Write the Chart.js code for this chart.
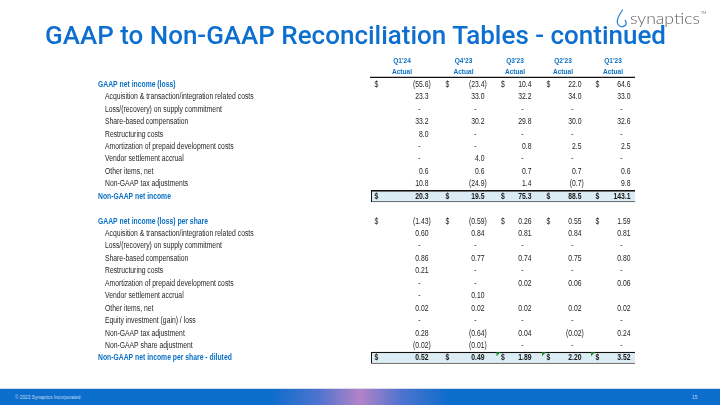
<!DOCTYPE html>
<html><head><meta charset="utf-8">
<script src="https://cdn.jsdelivr.net/npm/chart.js@4.4.0/dist/chart.umd.min.js"></script>
<style>
html,body{margin:0;padding:0;background:#fff;}
#wrap{position:relative;width:720px;height:405px;overflow:hidden;background:#fff;}
#c{position:absolute;left:0;top:0;}
.abs{position:absolute;left:0;top:0;}
#footer{position:absolute;left:0;top:388px;width:720px;height:17px;
  background:linear-gradient(90deg, rgba(11,109,204,0) 270px, rgba(120,120,208,0.6) 318px, #b383c9 360px, rgba(120,120,208,0.6) 402px, rgba(11,109,204,0) 450px), #0b6dcc;
  border-top:1px solid #d6dde6;box-sizing:border-box;}
#footer span{position:absolute;top:4.5px;font:5.6px "Liberation Sans",sans-serif;color:#c9dcf2;white-space:nowrap;transform:scaleX(0.85);transform-origin:0 50%;}
</style></head>
<body><div id="wrap">
<canvas id="c" width="720" height="405"></canvas>
<svg class="abs" width="720" height="60">
  <text x="45" y="44" textLength="621" lengthAdjust="spacingAndGlyphs" font-family="Roboto" font-weight="500" font-size="26.5" fill="#0d6fcf">GAAP to Non-GAAP Reconciliation Tables - continued</text>
  <path d="M622.5,10 C619,15 616.8,19 617.3,22.5 C617.8,26 621.8,27.8 624.6,25.9 C626.4,24.6 626.6,22.1 625.2,20.5" fill="none" stroke="#2b84d8" stroke-width="1.3" stroke-linecap="round"/>
  <text x="630" y="24" textLength="70" lengthAdjust="spacingAndGlyphs" font-family="Lato" font-weight="300" font-size="16" fill="#5f5f5f">synaptics</text>
  <text x="701" y="14" font-family="Lato" font-size="3.5" fill="#777">TM</text>
</svg>
<div id="footer"><span style="left:15px">© 2023 Synaptics Incorporated</span><span style="left:692px">15</span></div>
</div>
<script>
// ---------- DATA ----------
const quarters = ["Q1'24", "Q4'23", "Q3'23", "Q2'23", "Q1'23"];
const quarterStatus = ["Actual", "Actual", "Actual", "Actual", "Actual"];

const incomeRows = [
  "GAAP net income (loss)",
  "Acquisition & transaction/integration related costs",
  "Loss/(recovery) on supply commitment",
  "Share-based compensation",
  "Restructuring costs",
  "Amortization of prepaid development costs",
  "Vendor settlement accrual",
  "Other items, net",
  "Non-GAAP tax adjustments",
  "Non-GAAP net income"
];
// 0 is shown as "-", null as empty cell
const incomeQ1_24 = [-55.6, 23.3, 0, 33.2, 8.0, 0, 0, 0.6, 10.8, 20.3];
const incomeQ4_23 = [-23.4, 33.0, 0, 30.2, 0, 0, 4.0, 0.6, -24.9, 19.5];
const incomeQ3_23 = [10.4, 32.2, 0, 29.8, 0, 0.8, 0, 0.7, 1.4, 75.3];
const incomeQ2_23 = [22.0, 34.0, 0, 30.0, 0, 2.5, 0, 0.7, -0.7, 88.5];
const incomeQ1_23 = [64.6, 33.0, 0, 32.6, 0, 2.5, 0, 0.6, 9.8, 143.1];

const perShareRows = [
  "GAAP net income (loss) per share",
  "Acquisition & transaction/integration related costs",
  "Loss/(recovery) on supply commitment",
  "Share-based compensation",
  "Restructuring costs",
  "Amortization of prepaid development costs",
  "Vendor settlement accrual",
  "Other items, net",
  "Equity investment (gain) / loss",
  "Non-GAAP tax adjustment",
  "Non-GAAP share adjustment",
  "Non-GAAP net income per share - diluted"
];
const perShareQ1_24 = [-1.43, 0.60, 0, 0.86, 0.21, 0, 0, 0.02, 0, 0.28, -0.02, 0.52];
const perShareQ4_23 = [-0.59, 0.84, 0, 0.77, 0, 0, 0.10, 0.02, 0, -0.64, -0.01, 0.49];
const perShareQ3_23 = [0.26, 0.81, 0, 0.74, 0, 0.02, null, 0.02, 0, 0.04, 0, 1.89];
const perShareQ2_23 = [0.55, 0.84, 0, 0.75, 0, 0.06, null, 0.02, 0, -0.02, 0, 2.20];
const perShareQ1_23 = [1.59, 0.81, 0, 0.80, 0, 0.06, null, 0.02, 0, 0.24, 0, 3.52];

// ---------- TABLE BUILD ----------
const incomeCols = [incomeQ1_24, incomeQ4_23, incomeQ3_23, incomeQ2_23, incomeQ1_23];
const perShareCols = [perShareQ1_24, perShareQ4_23, perShareQ3_23, perShareQ2_23, perShareQ1_23];

function blockRows(labels, cols, decimals) {
  return labels.map((lab, i) => ({
    label: lab,
    kind: i === 0 ? 'head' : (i === labels.length - 1 ? 'total' : 'item'),
    decimals,
    values: cols.map(c => c[i])
  }));
}
const rows = [
  ...blockRows(incomeRows, incomeCols, 1),
  { label: '', kind: 'blank', decimals: 0, values: [] },
  ...blockRows(perShareRows, perShareCols, 2)
];

// ---------- LAYOUT / STYLE ----------
const BLUE = '#0a6fc4';
const TEXT = '#262626';
const FAM = '"Liberation Sans",Arial,sans-serif';
const NARROW = 0.82;   // emulate Arial Narrow
const FS = 8.3;
const L = {
  labelX: 8, indentX: 15,
  headerX: [312, 373.5, 425, 473, 523],
  dollarX: [284.5, 355.5, 411, 456.5, 505.5],
  valueRight: [338.5, 394.5, 441.5, 491.5, 540.5],
  band: [281, 545],
  ruleX: [280, 545],
  hdr1DY: -17, hdr2DY: -6.3,
  flagCols: [2, 3, 4]
};

function fmt(v, d) {
  const s = Math.abs(v).toFixed(d);
  return v < 0 ? '(' + s + ')' : s;
}
function nText(ctx, s, x, y, align) {
  ctx.save();
  ctx.translate(x, y);
  ctx.scale(NARROW, 1);
  ctx.textAlign = align;
  ctx.fillText(s, 0, 0);
  ctx.restore();
}

const tablePlugin = {
  id: 'tableText',
  afterDatasetsDraw(chart) {
    const { ctx, chartArea } = chart;
    const x = chart.scales.x, y = chart.scales.y;
    const px = v => x.getPixelForValue(v);
    ctx.save();
    ctx.textBaseline = 'middle';
    // column headers
    ctx.fillStyle = BLUE;
    ctx.font = 'bold 8px ' + FAM;
    quarters.forEach((q, i) => {
      nText(ctx, q, px(L.headerX[i]), chartArea.top + L.hdr1DY, 'center');
      nText(ctx, quarterStatus[i], px(L.headerX[i]), chartArea.top + L.hdr2DY, 'center');
    });
    // header rule
    ctx.strokeStyle = '#111';
    ctx.lineWidth = 1.3;
    ctx.beginPath();
    ctx.moveTo(px(L.ruleX[0]), chartArea.top - 0.6);
    ctx.lineTo(px(L.ruleX[1]), chartArea.top - 0.6);
    ctx.stroke();

    const rowH = (chartArea.bottom - chartArea.top) / rows.length;
    rows.forEach((r, ri) => {
      if (r.kind === 'blank') return;
      const cy = y.getPixelForValue(ri) + 0.3;
      const isBlue = r.kind === 'head' || r.kind === 'total';
      ctx.fillStyle = isBlue ? BLUE : TEXT;
      ctx.font = (isBlue ? 'bold ' : '') + FS + 'px ' + FAM;
      nText(ctx, r.label, px(isBlue ? L.labelX : L.indentX), cy, 'left');
      const bold = r.kind === 'total';
      ctx.font = (bold ? 'bold ' : '') + FS + 'px ' + FAM;
      ctx.fillStyle = '#1a1a1a';
      const parenW = ctx.measureText(')').width * NARROW;
      r.values.forEach((v, ci) => {
        if (isBlue) nText(ctx, '$', px(L.dollarX[ci]), cy, 'left');
        if (v === null || v === undefined) return;
        if (v === 0) {
          nText(ctx, '-', px(L.valueRight[ci]) - 9, cy, 'center');
          return;
        }
        nText(ctx, fmt(v, r.decimals), px(L.valueRight[ci]) + (v < 0 ? parenW : 0), cy, 'right');
      });
      // Excel green corner flags on diluted row
      if (r.kind === 'total' && r.decimals === 2) {
        ctx.fillStyle = '#1f8f2a';
        const top = y.getPixelForValue(ri) - rowH / 2 + 0.8;
        L.flagCols.forEach(ci => {
          const fx = px(L.dollarX[ci]) - 4.5;
          ctx.beginPath();
          ctx.moveTo(fx, top);
          ctx.lineTo(fx + 4, top);
          ctx.lineTo(fx, top + 4);
          ctx.closePath();
          ctx.fill();
        });
      }
    });
    ctx.restore();
  }
};

new Chart(document.getElementById('c'), {
  type: 'bar',
  data: {
    labels: rows.map(r => r.label),
    datasets: [{
      data: rows.map(r => r.kind === 'total' ? [L.band[0], L.band[1]] : null),
      backgroundColor: '#dcecf4',
      borderColor: '#111',
      borderWidth: { top: 1.6, bottom: 1, left: 1, right: 0 },
      borderSkipped: false,
      categoryPercentage: 1,
      barPercentage: 0.97
    }]
  },
  options: {
    indexAxis: 'y',
    responsive: false,
    devicePixelRatio: 1,
    animation: false,
    layout: { padding: { left: 90, right: 80, top: 78, bottom: 41 } },
    scales: {
      x: { type: 'linear', min: 0, max: 550, display: false },
      y: { type: 'category', offset: true, display: false }
    },
    plugins: { legend: { display: false }, tooltip: { enabled: false } }
  },
  plugins: [tablePlugin]
});
</script>
</body></html>
